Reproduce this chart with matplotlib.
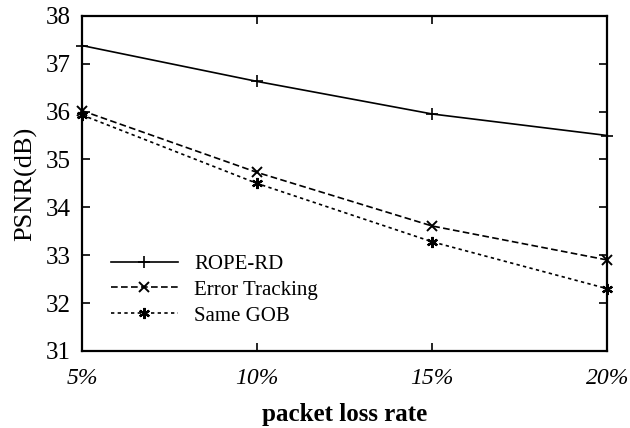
import matplotlib
matplotlib.use("Agg")
import matplotlib.pyplot as plt

# Data
loss_rate = [5, 10, 15, 20]
rope_rd = [37.38, 36.63, 35.95, 35.50]
error_tracking = [36.02, 34.73, 33.61, 32.90]
same_gob = [35.93, 34.50, 33.28, 32.30]
x_ticks = [5, 10, 15, 20]
x_labels = ["5%", "10%", "15%", "20%"]
y_ticks = [31, 32, 33, 34, 35, 36, 37, 38]

plt.rcParams['font.family'] = ['Liberation Serif', 'DejaVu Serif']

fig = plt.figure(figsize=(6.3, 4.28), dpi=100)
ax = fig.add_axes([0.130, 0.180, 0.834, 0.783])

ax.plot(loss_rate, rope_rd, color='black', linestyle='-', linewidth=1.2,
        marker='+', markersize=9, markeredgewidth=1.2, label='ROPE-RD', clip_on=False)
ax.plot(loss_rate, error_tracking, color='black', linestyle=(0, (4, 2)), linewidth=1.2,
        marker='x', markersize=7, markeredgewidth=1.4, label='Error Tracking', clip_on=False)
ax.plot(loss_rate, same_gob, color='black', linestyle=(0, (2, 2)), linewidth=1.2,
        marker=(6, 2, 0), markersize=8, markeredgewidth=1.6, label='Same GOB', clip_on=False)

ax.set_xlim(5, 20)
ax.set_ylim(31, 38)
ax.set_xticks(x_ticks)
ax.set_xticklabels(x_labels, fontstyle='italic')
ax.set_yticks(y_ticks)
ax.tick_params(axis='both', direction='in', top=True, right=True, length=6, width=1.2,
               labelsize=18)
ax.tick_params(axis='x', pad=12, labelsize=17)
ax.tick_params(axis='y', pad=8)
for s in ax.spines.values():
    s.set_linewidth(1.6)

ax.set_xlabel("packet loss rate", fontsize=18, fontweight='bold', labelpad=10)
ax.set_ylabel("PSNR(dB)", fontsize=19, labelpad=6)

ax.legend(loc='lower left', bbox_to_anchor=(0.02, 0.02), frameon=False, fontsize=15,
          handlelength=3.2, handletextpad=0.8, labelspacing=0.3)

fig.savefig('out.png', dpi=100)
